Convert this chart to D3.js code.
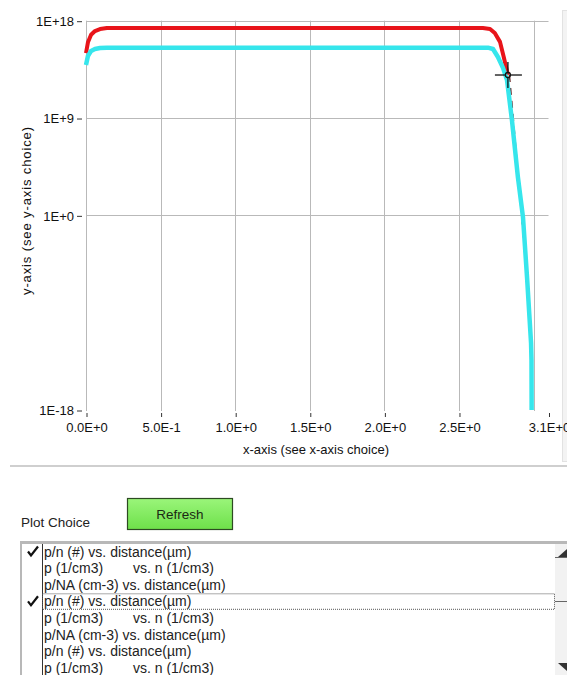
<!DOCTYPE html>
<html>
<head>
<meta charset="utf-8">
<script src="https://cdn.jsdelivr.net/npm/d3@7"></script>
<style>
  body { margin: 0; background: #fff; }
  svg { display: block; font-family: "Liberation Sans", Arial, sans-serif; }
</style>
</head>
<body>
<script>
// values: [distance, value]
const redSeries = [
    [0.000, 1.0e15], [0.013, 1.0e16], [0.034, 5.0e16], [0.060, 1.1e17], [0.094, 1.7e17],
    [0.140, 2.1e17], [1.000, 2.1e17], [2.000, 2.1e17], [2.660, 2.1e17], [2.708, 1.7e17],
    [2.740, 7.2e16], [2.775, 1.1e16], [2.800, 4.4e14], [2.828, 9.5e12]
];
const cyanSeries = [
    [0.000, 8.0e13], [0.013, 5.4e14], [0.034, 1.6e15], [0.060, 2.4e15], [0.094, 3.0e15],
    [0.140, 3.2e15], [1.000, 3.2e15], [2.000, 3.2e15], [2.694, 3.2e15], [2.728, 2.4e15],
    [2.761, 4.4e14], [2.795, 4.3e13], [2.822, 3.2e12], [2.855, 6.3e8], [2.895, 3.4e3],
    [2.929, 6.8e-1], [2.956, 2.0e-6], [2.983, 1.6e-12], [2.986, 4.0e-14], [2.987, 1.0e-18]
];
const fitSeries = [
    [2.828, 9.5e12], [2.855, 6.3e8], [2.895, 2.0e2], [2.929, 6.3e-4], [2.956, 1.6e-8], [2.970, 1.0e-12]
];
const cursorPoint = [2.828, 9.5e12];

const xGrid = [0, 0.5, 1.0, 1.5, 2.0, 2.5, 3.0];
const xTicks = [0, 0.5, 1.0, 1.5, 2.0, 2.5, 3.1];
const xTickLabels = ['0.0E+0', '5.0E-1', '1.0E+0', '1.5E+0', '2.0E+0', '2.5E+0', '3.1E+0'];
const yGrid = [1e18, 1e9, 1];
const yTicks = [1e18, 1e9, 1, 1e-18];
const yTickLabels = ['1E+18', '1E+9', '1E+0', '1E-18'];

const plotChoices = [
    ['p/n (#) vs. distance(\u00b5m)', ''],
    ['p (1/cm3)', 'vs. n (1/cm3)'],
    ['p/NA (cm-3) vs. distance(\u00b5m)', ''],
    ['p/n (#) vs. distance(\u00b5m)', ''],
    ['p (1/cm3)', 'vs. n (1/cm3)'],
    ['p/NA (cm-3) vs. distance(\u00b5m)', ''],
    ['p/n (#) vs. distance(\u00b5m)', ''],
    ['p (1/cm3)', 'vs. n (1/cm3)']
];
const checkedRows = [0, 3];
const focusRow = 3;

drawChart();

function drawChart() {
    var width = 567,
        height = 675,
        pLeft = 86,
        pRight = 548.5,
        pTop = 20.7,
        pBottom = 410;

    var svg = d3.select('body').append('svg')
        .attr('width', width)
        .attr('height', height);

    svg.append('rect').attr('width', width).attr('height', height).attr('fill', '#fff');

    // panel edge on the right
    svg.append('rect')
        .attr('x', 562.5).attr('y', 10.5).attr('width', 10).attr('height', 451)
        .attr('fill', '#f3f3f3').attr('stroke', '#e2e2e2');

    var xScale = d3.scaleLinear().domain([0, 3.1]).range([pLeft, pRight]);
    var yScale = d3.scaleLog().domain([1e-18, 1e18]).range([pBottom, pTop]);

    // grid
    svg.append('g').selectAll('line')
        .data(xGrid).enter().append('line')
        .attr('x1', d => Math.round(xScale(d)) + 0.5).attr('x2', d => Math.round(xScale(d)) + 0.5)
        .attr('y1', pTop).attr('y2', pBottom + 1)
        .attr('stroke', '#b9b9b9');

    svg.append('g').selectAll('line')
        .data(yGrid).enter().append('line')
        .attr('x1', pLeft).attr('x2', pRight)
        .attr('y1', d => Math.round(yScale(d)) + 0.5).attr('y2', d => Math.round(yScale(d)) + 0.5)
        .attr('stroke', '#b9b9b9');

    // axes
    var xAxis = d3.axisBottom(xScale)
        .tickValues(xTicks)
        .tickFormat((d, i) => xTickLabels[i])
        .tickSizeInner(4).tickSizeOuter(0).tickPadding(6);

    var xAxisGroup = svg.append('g')
        .attr('transform', 'translate(0.5, 413)')
        .call(xAxis);
    xAxisGroup.select('.domain').remove();
    xAxisGroup.selectAll('line').attr('stroke', '#333');
    xAxisGroup.selectAll('text').attr('font-size', 13).attr('fill', '#111')
        .attr('font-family', '"Liberation Sans", Arial, sans-serif');

    var yAxis = d3.axisLeft(yScale)
        .tickValues(yTicks)
        .tickFormat((d, i) => yTickLabels[i])
        .tickSizeInner(5).tickSizeOuter(0).tickPadding(3);

    var yAxisGroup = svg.append('g')
        .attr('transform', 'translate(82, 0.5)')
        .call(yAxis);
    yAxisGroup.select('.domain').remove();
    yAxisGroup.selectAll('line').attr('stroke', '#333');
    yAxisGroup.selectAll('text').attr('font-size', 13).attr('fill', '#111')
        .attr('font-family', '"Liberation Sans", Arial, sans-serif');

    svg.append('text')
        .attr('x', 316)
        .attr('y', 454)
        .attr('text-anchor', 'middle')
        .attr('font-size', 13)
        .attr('fill', '#111')
        .text('x-axis (see x-axis choice)');

    svg.append('text')
        .attr('transform', 'translate(31, 211) rotate(-90)')
        .attr('text-anchor', 'middle')
        .attr('font-size', 13)
        .attr('textLength', 168)
        .attr('fill', '#111')
        .text('y-axis (see y-axis choice)');

    // curves
    svg.append('clipPath').attr('id', 'plot-clip')
        .append('rect').attr('x', pLeft - 3).attr('y', pTop - 6)
        .attr('width', pRight - pLeft + 6).attr('height', pBottom - pTop + 6);

    var line = d3.line()
        .x(d => xScale(d[0]))
        .y(d => yScale(d[1]));

    var plot = svg.append('g').attr('clip-path', 'url(#plot-clip)');

    plot.append('path')
        .datum(redSeries)
        .attr('d', line)
        .attr('fill', 'none')
        .attr('stroke', '#e8141a')
        .attr('stroke-width', 4)
        .attr('stroke-linejoin', 'round');

    plot.append('path')
        .datum(fitSeries)
        .attr('d', line)
        .attr('transform', 'translate(1.5,0)')
        .attr('fill', 'none')
        .attr('stroke', '#6a2a2a')
        .attr('stroke-width', 1.5)
        .attr('stroke-dasharray', '7,6');

    plot.append('path')
        .datum(cyanSeries)
        .attr('d', line)
        .attr('fill', 'none')
        .attr('stroke', '#36e6ec')
        .attr('stroke-width', 4.5)
        .attr('stroke-linejoin', 'round');

    // cursor
    var cx = xScale(cursorPoint[0]), cy = yScale(cursorPoint[1]);
    var cursor = svg.append('g').attr('stroke', '#111').attr('stroke-width', 1.3);
    cursor.append('line').attr('x1', cx - 13).attr('x2', cx - 3).attr('y1', cy).attr('y2', cy);
    cursor.append('line').attr('x1', cx + 3).attr('x2', cx + 14).attr('y1', cy).attr('y2', cy);
    cursor.append('line').attr('x1', cx).attr('x2', cx).attr('y1', cy - 13).attr('y2', cy - 3);
    cursor.append('line').attr('x1', cx).attr('x2', cx).attr('y1', cy + 3).attr('y2', cy + 13);
    cursor.append('circle').attr('cx', cx).attr('cy', cy).attr('r', 2.5).attr('fill', 'none');

    // separator
    svg.append('rect').attr('x', 10).attr('y', 465).attr('width', 557).attr('height', 2).attr('fill', '#cfcfcf');

    // bottom controls
    svg.append('text')
        .attr('x', 21).attr('y', 527)
        .attr('font-size', 13.5).attr('fill', '#222')
        .text('Plot Choice');

    var grad = svg.append('defs').append('linearGradient')
        .attr('id', 'btn').attr('x1', 0).attr('x2', 0).attr('y1', 0).attr('y2', 1);
    grad.append('stop').attr('offset', '0%').attr('stop-color', '#9af57a');
    grad.append('stop').attr('offset', '100%').attr('stop-color', '#6ee04a');

    svg.append('rect')
        .attr('x', 127.5).attr('y', 498.5).attr('width', 105).attr('height', 31)
        .attr('fill', 'url(#btn)').attr('stroke', '#2d4a22').attr('stroke-width', 1.2);
    svg.append('text')
        .attr('x', 180).attr('y', 519)
        .attr('text-anchor', 'middle')
        .attr('font-size', 13.5).attr('fill', '#1c2a14')
        .text('Refresh');

    // list box
    svg.append('rect').attr('x', 20).attr('y', 541).attr('width', 547).attr('height', 3).attr('fill', '#b8b8b8');
    svg.append('rect').attr('x', 20).attr('y', 541).attr('width', 2).attr('height', 134).attr('fill', '#b8b8b8');
    svg.append('line').attr('x1', 42.5).attr('x2', 42.5).attr('y1', 544).attr('y2', 675)
        .attr('stroke', '#333').attr('stroke-width', 1);

    var rowY = d3.scaleLinear().domain([0, 1]).range([556.5, 573.1]);

    var rows = svg.append('g').selectAll('g')
        .data(plotChoices).enter().append('g')
        .attr('transform', (d, i) => `translate(0, ${rowY(i)})`)
        .attr('font-size', 14)
        .attr('fill', '#222');

    rows.append('text')
        .attr('x', 44)
        .text(d => d[0]);

    rows.append('text')
        .attr('x', 133)
        .text(d => d[1]);

    svg.append('g').selectAll('path')
        .data(checkedRows).enter().append('path')
        .attr('d', d => {
            var y0 = rowY(d) - 6;
            return `M28,${y0 + 1} L31,${y0 + 5} L38,${y0 - 4}`;
        })
        .attr('fill', 'none').attr('stroke', '#111').attr('stroke-width', 2.2);

    svg.append('rect')
        .attr('x', 42.5).attr('y', rowY(focusRow) - 12.5)
        .attr('width', 512).attr('height', 15.5)
        .attr('fill', 'none').attr('stroke', '#555').attr('stroke-width', 1)
        .attr('stroke-dasharray', '1,1');

    // scrollbar
    svg.append('rect').attr('x', 555).attr('y', 544).attr('width', 12).attr('height', 131).attr('fill', '#f2f2f2');
    svg.append('path').attr('d', 'M558,557 L567,557 L567,549 Z').attr('fill', '#333');
    svg.append('line').attr('x1', 555).attr('x2', 567).attr('y1', 557.5).attr('y2', 557.5).attr('stroke', '#666');
    svg.append('line').attr('x1', 555).attr('x2', 567).attr('y1', 601.5).attr('y2', 601.5).attr('stroke', '#666');
    svg.append('path').attr('d', 'M558,663 L567,663 L567,671 Z').attr('fill', '#333');
}
</script>
</body>
</html>
